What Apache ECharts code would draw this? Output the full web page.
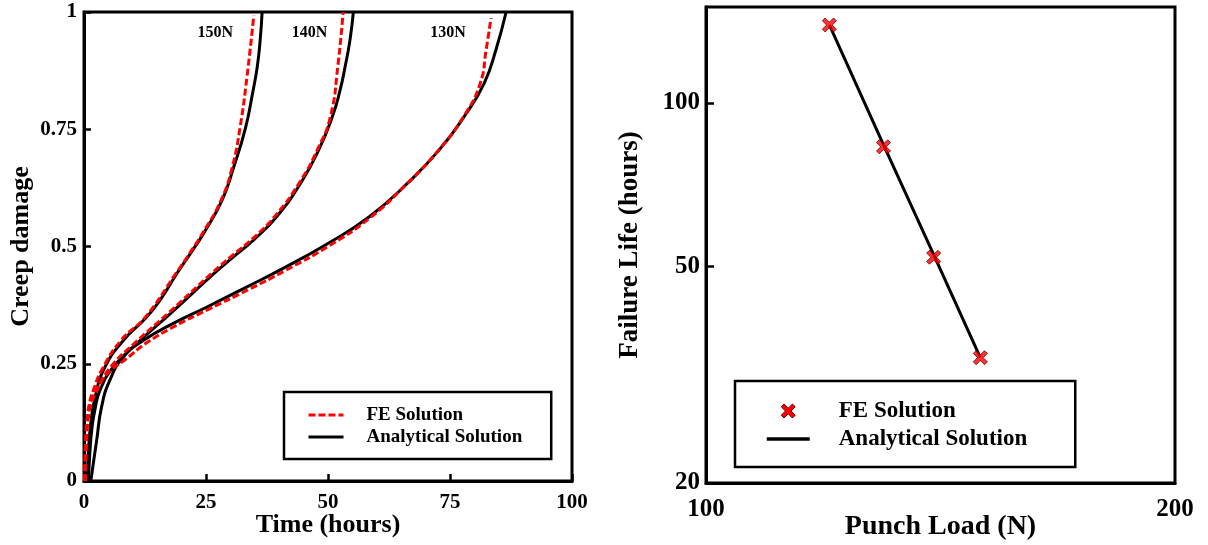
<!DOCTYPE html>
<html>
<head>
<meta charset="utf-8">
<script src="https://cdn.jsdelivr.net/npm/echarts@6/dist/echarts.min.js"></script>
<style>
  html, body { margin: 0; padding: 0; background: #fff; }
  #chart { width: 1208px; height: 545px; }
</style>
</head>
<body>
<div id="chart"></div>
<script>
// Creep damage histories, [time (h), damage] pairs per punch load
const an150 = [[0.6,0],[0.9,0.06],[1.3,0.115],[2.3,0.18],[4.3,0.243],[8.1,0.30],[12.9,0.35],[16,0.392],[19.0,0.442],[22.0,0.488],[24.5,0.528],[28.3,0.599],[30.7,0.67],[33.1,0.753],[34.6,0.83],[35.5,0.883],[36.1,0.94],[36.5,1.0]];
const fe150 = [[0.1,0],[0.3,0.08],[0.6,0.13],[1.2,0.17],[1.9,0.193],[3.6,0.236],[7.6,0.30],[12.6,0.35],[18.8,0.442],[21.8,0.488],[24.3,0.528],[28.1,0.599],[30.4,0.67],[32.0,0.755],[33.4,0.862],[34.8,0.993]];
const an140 = [[0.9,0],[1.2,0.06],[1.6,0.11],[2.2,0.15],[3.3,0.194],[6.0,0.243],[10.8,0.293],[17.7,0.357],[26.6,0.442],[30.5,0.477],[35.0,0.516],[39.6,0.565],[44.4,0.635],[48.1,0.706],[50.9,0.777],[52.4,0.83],[53.5,0.883],[54.5,0.94],[55.2,1.0]];
const fe140 = [[0.2,0],[0.4,0.08],[0.8,0.13],[1.5,0.165],[3.0,0.2],[5.6,0.245],[10.5,0.295],[17.5,0.36],[26.4,0.445],[30.3,0.48],[34.8,0.519],[39.4,0.568],[44.2,0.637],[47.9,0.708],[50.5,0.777],[52.0,0.883],[53.1,1.0]];
const an130 = [[1.4,0],[1.8,0.03],[2.6,0.087],[3.6,0.158],[5.3,0.215],[8.1,0.265],[12.2,0.30],[18.3,0.336],[25.2,0.371],[33.4,0.414],[40.9,0.454],[49.9,0.506],[58.4,0.563],[66.3,0.635],[72.8,0.706],[77.9,0.777],[82.0,0.848],[84.4,0.919],[86.5,1.0]];
const fe130 = [[0.3,0],[0.6,0.1],[1.0,0.15],[1.8,0.18],[3.3,0.21],[5.5,0.236],[8.6,0.26],[12.6,0.293],[18.6,0.33],[25.5,0.366],[33.7,0.408],[41.3,0.449],[50.3,0.502],[58.6,0.561],[66.3,0.635],[72.7,0.706],[77.8,0.777],[81.2,0.848],[82.4,0.919],[83.4,0.987]];

// Curve tags: load name and where it sits (time, damage)
const loadTags = ['150N', '140N', '130N'];
const tagTime = [26.9, 46.2, 74.6];
const tagDamage = [0.955, 0.955, 0.955];

// Failure life vs punch load
const loads = [120, 130, 140, 150];
const feLife = [139, 83, 52, 34];
const anLife = [139, 83.7, 52.6, 34];

// Tick labels
const damageTicks = [0, 0.25, 0.5, 0.75, 1];
const lifeTicks = [20, 50, 100];
const loadTicks = [100, 200];

const FONT = "'Liberation Serif', 'Times New Roman', serif";
const RED = '#ff0000';
const crossPath = 'path://M2,0 L5,3 L8,0 L10,2 L7,5 L10,8 L8,10 L5,7 L2,10 L0,8 L3,5 L0,2 Z';

const zip = (a, b) => a.map((v, i) => [v, b[i]]);

const axisText = (size) => ({ fontFamily: FONT, fontWeight: 'bold', fontSize: size, color: '#000' });

const anLine = (data) => ({
  name: 'Analytical Solution', type: 'line', xAxisIndex: 0, yAxisIndex: 0,
  data, smooth: 0.5, symbol: 'none',
  lineStyle: { color: '#000', width: 3 }, itemStyle: { color: '#000' }, z: 3
});
const feLine = (data) => ({
  name: 'FE Solution', type: 'line', xAxisIndex: 0, yAxisIndex: 0,
  data, smooth: 0.5, symbol: 'none',
  lineStyle: { color: RED, width: 3, type: [7, 3] }, itemStyle: { color: RED }, z: 4
});

const chart = echarts.init(document.getElementById('chart'), null, { renderer: 'canvas' });

const option = {
  animation: false,
  backgroundColor: '#fff',
  grid: [
    { left: 84, top: 12, width: 488, height: 469, outerBoundsMode: 'none', containLabel: false,
      show: true, borderColor: '#000', borderWidth: 3, backgroundColor: 'transparent' },
    { left: 706, top: 7, width: 469, height: 476, outerBoundsMode: 'none', containLabel: false,
      show: true, borderColor: '#000', borderWidth: 3, backgroundColor: 'transparent' }
  ],
  xAxis: [
    {
      type: 'value', gridIndex: 0, min: 0, max: 100, interval: 25,
      name: 'Time (hours)', nameLocation: 'middle', nameGap: 31, nameMoveOverlap: false,
      nameTextStyle: axisText(26),
      axisLine: { show: true, lineStyle: { color: '#000', width: 3 } },
      axisTick: { show: true, inside: true, length: 7, lineStyle: { color: '#000', width: 2.5 } },
      axisLabel: Object.assign({ margin: 11 }, axisText(21)),
      splitLine: { show: false }
    },
    {
      type: 'log', gridIndex: 1, min: 100, max: 200, logBase: 10,
      name: 'Punch Load (N)', nameLocation: 'middle', nameGap: 30, nameMoveOverlap: false,
      nameTextStyle: axisText(28),
      axisLine: { show: true, lineStyle: { color: '#000', width: 3 } },
      axisTick: { show: false },
      axisLabel: Object.assign({ margin: 14, customValues: loadTicks, showMinLabel: true, showMaxLabel: true }, axisText(25)),
      splitLine: { show: false },
      minorTick: { show: false }, minorSplitLine: { show: false }
    }
  ],
  yAxis: [
    {
      type: 'value', gridIndex: 0, min: 0, max: 1, interval: 0.25,
      name: 'Creep damage', nameLocation: 'middle', nameGap: 50, nameMoveOverlap: false,
      nameTextStyle: axisText(26),
      axisLine: { show: true, lineStyle: { color: '#000', width: 3 } },
      axisTick: { show: true, inside: true, length: 7, lineStyle: { color: '#000', width: 2.5 } },
      axisLabel: Object.assign({ margin: 7, customValues: damageTicks }, axisText(21)),
      splitLine: { show: false }
    },
    {
      type: 'log', gridIndex: 1, min: 20, max: 150, logBase: 10,
      name: 'Failure Life (hours)', nameLocation: 'middle', nameGap: 62, nameMoveOverlap: false,
      nameTextStyle: axisText(27),
      axisLine: { show: true, lineStyle: { color: '#000', width: 3 } },
      axisTick: { show: true, inside: true, length: 8, customValues: lifeTicks, lineStyle: { color: '#000', width: 2.5 } },
      axisLabel: Object.assign({ margin: 6, customValues: lifeTicks }, axisText(25)),
      splitLine: { show: false },
      minorTick: { show: false }, minorSplitLine: { show: false }
    }
  ],
  legend: [
    {
      orient: 'vertical', left: 284, top: 392,
      data: [
        { name: 'FE Solution', itemStyle: { opacity: 0 }, lineStyle: { color: RED, width: 3, type: [7, 3] } },
        { name: 'Analytical Solution', itemStyle: { opacity: 0 }, lineStyle: { color: '#000', width: 3, type: 'solid' } }
      ],
      padding: [13, 29, 12, 23],
      itemWidth: 35, itemHeight: 14, itemGap: 2,
      borderColor: '#000', borderWidth: 2.5, borderRadius: 0, backgroundColor: '#fff',
      selectedMode: false,
      textStyle: Object.assign({ lineHeight: 20, padding: [0, 0, 0, 18] }, axisText(19))
    },
    {
      orient: 'vertical', left: 735, top: 381,
      data: [
        { name: 'FE Solution', icon: crossPath, itemStyle: { color: RED, borderColor: '#600', borderWidth: 1 } },
        { name: 'Analytical Solution', itemStyle: { opacity: 0 }, lineStyle: { color: '#000', width: 3.5, type: 'solid' } }
      ],
      padding: [18, 48, 16, 30],
      itemWidth: 43, itemHeight: 14, itemGap: 4, symbolKeepAspect: true,
      borderColor: '#000', borderWidth: 2.5, borderRadius: 0, backgroundColor: '#fff',
      selectedMode: false,
      textStyle: Object.assign({ lineHeight: 24, padding: [0, 0, 0, 24] }, axisText(23))
    }
  ],
  series: [
    Object.assign(anLine(an150), {
      markPoint: {
        symbol: 'rect', symbolSize: 0, silent: true,
        label: { show: true, position: 'inside', fontFamily: FONT, fontWeight: 'bold', fontSize: 16, color: '#000', formatter: (p) => p.name },
        data: loadTags.map((t, i) => ({ name: t, coord: [tagTime[i], tagDamage[i]] }))
      }
    }),
    anLine(an140),
    anLine(an130),
    feLine(fe150),
    feLine(fe140),
    feLine(fe130),
    {
      name: 'Analytical Solution', type: 'line', xAxisIndex: 1, yAxisIndex: 1,
      data: zip(loads, anLife), symbol: 'none',
      lineStyle: { color: '#000', width: 3 }, itemStyle: { color: '#000' }, z: 3
    },
    {
      name: 'FE Solution', type: 'scatter', xAxisIndex: 1, yAxisIndex: 1,
      data: zip(loads, feLife), symbol: crossPath, symbolSize: 14,
      itemStyle: { color: RED, borderColor: '#600', borderWidth: 1 }, z: 5
    }
  ]
};

chart.setOption(option);
</script>
</body>
</html>
